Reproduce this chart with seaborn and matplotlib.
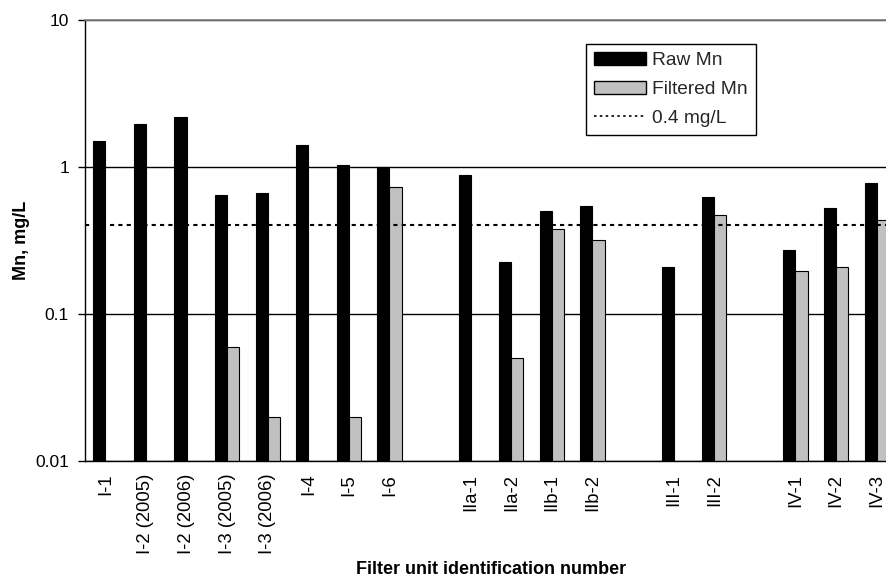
import numpy as np
import pandas as pd
import matplotlib
matplotlib.use("Agg")
import matplotlib.pyplot as plt
from matplotlib.patches import Patch
from matplotlib.lines import Line2D
from matplotlib.ticker import FuncFormatter, NullLocator
import seaborn as sns

# -----------------------------------
# Data
# -----------------------------------
# blank entries (" ", "  ", "   ") are the gaps between filter groups
units = ["I-1", "I-2 (2005)", "I-2 (2006)", "I-3 (2005)", "I-3 (2006)",
         "I-4", "I-5", "I-6", " ",
         "IIa-1", "IIa-2", "IIb-1", "IIb-2", "  ",
         "III-1", "III-2", "   ",
         "IV-1", "IV-2", "IV-3"]

raw_mn = [1.50, 1.97, 2.18, 0.64, 0.67, 1.41, 1.03, 1.00, np.nan,
          0.875, 0.227, 0.50, 0.54, np.nan,
          0.21, 0.62, np.nan,
          0.272, 0.523, 0.776]

filtered_mn = [np.nan, np.nan, np.nan, 0.06, 0.02, np.nan, 0.02, 0.73, np.nan,
               np.nan, 0.05, 0.378, 0.318, np.nan,
               np.nan, 0.47, np.nan,
               0.197, 0.21, 0.435]

limit = 0.4

# -----------------------------------
# Long-form table for seaborn
# -----------------------------------
df = pd.DataFrame({
    "unit": units * 2,
    "series": ["Raw Mn"] * len(units) + ["Filtered Mn"] * len(units),
    "value": raw_mn + filtered_mn,
}).dropna()

# -----------------------------------
# Plot
# -----------------------------------
sns.set_theme(style="white")
plt.rcParams["font.family"] = ["Liberation Sans", "DejaVu Sans"]

fig = plt.figure(figsize=(8.86, 5.79), dpi=100)
ax = fig.add_axes([85 / 886, (579 - 461.3) / 579, (897 - 85) / 886, (461.3 - 19.7) / 579])

sns.barplot(data=df, x="unit", y="value", hue="series", order=units,
            hue_order=["Raw Mn", "Filtered Mn"],
            palette={"Raw Mn": "black", "Filtered Mn": "#C0C0C0"},
            saturation=1, width=0.6, edgecolor="black", linewidth=0.8,
            errorbar=None, legend=False, ax=ax)

ax.axhline(limit, color="black", lw=1.5, ls=(0, (2, 2)), zorder=3)

ax.set_yscale("log")
ax.set_ylim(0.01, 10)
ax.set_xlim(-0.5, len(units) - 0.5)
ax.yaxis.set_minor_locator(NullLocator())
ax.yaxis.set_major_formatter(FuncFormatter(lambda v, p: "%g" % v))

ax.yaxis.grid(True, color="black", lw=1)
ax.set_axisbelow(True)
ax.get_ygridlines()[-1].set_color("#808080")

for s in ["left", "bottom"]:
    ax.spines[s].set_color("black")
    ax.spines[s].set_linewidth(1)
ax.spines["top"].set_color("#808080")
ax.spines["right"].set_visible(False)

ax.tick_params(axis="y", left=True, length=5, width=1, color="black",
               pad=6.5, labelsize=12.5, labelcolor="black")
ax.tick_params(axis="x", bottom=False, pad=3, labelsize=13.3,
               labelcolor="black", labelrotation=90)

ax.set_xlabel("Filter unit identification number", fontsize=13,
              fontweight="bold", color="black", labelpad=5)
ax.set_ylabel("Mn, mg/L", fontsize=13, fontweight="bold", color="black",
              labelpad=4)

handles = [
    Patch(facecolor="black", edgecolor="black", label="Raw Mn"),
    Patch(facecolor="#C0C0C0", edgecolor="black", label="Filtered Mn"),
    Line2D([0], [0], color="black", lw=1.2, ls=(0, (1.5, 2)), label="0.4 mg/L"),
]
leg = ax.legend(handles=handles, loc="upper left",
                bbox_to_anchor=(585.7 / 886, 1 - 44 / 579),
                bbox_transform=fig.transFigure, borderaxespad=0,
                fontsize=13.8, frameon=True, fancybox=False, framealpha=1,
                edgecolor="black", handlelength=2.7, handletextpad=0.35,
                labelspacing=0.58, borderpad=0.42)
leg.get_frame().set_linewidth(1)

fig.savefig("out.png", dpi=100)
